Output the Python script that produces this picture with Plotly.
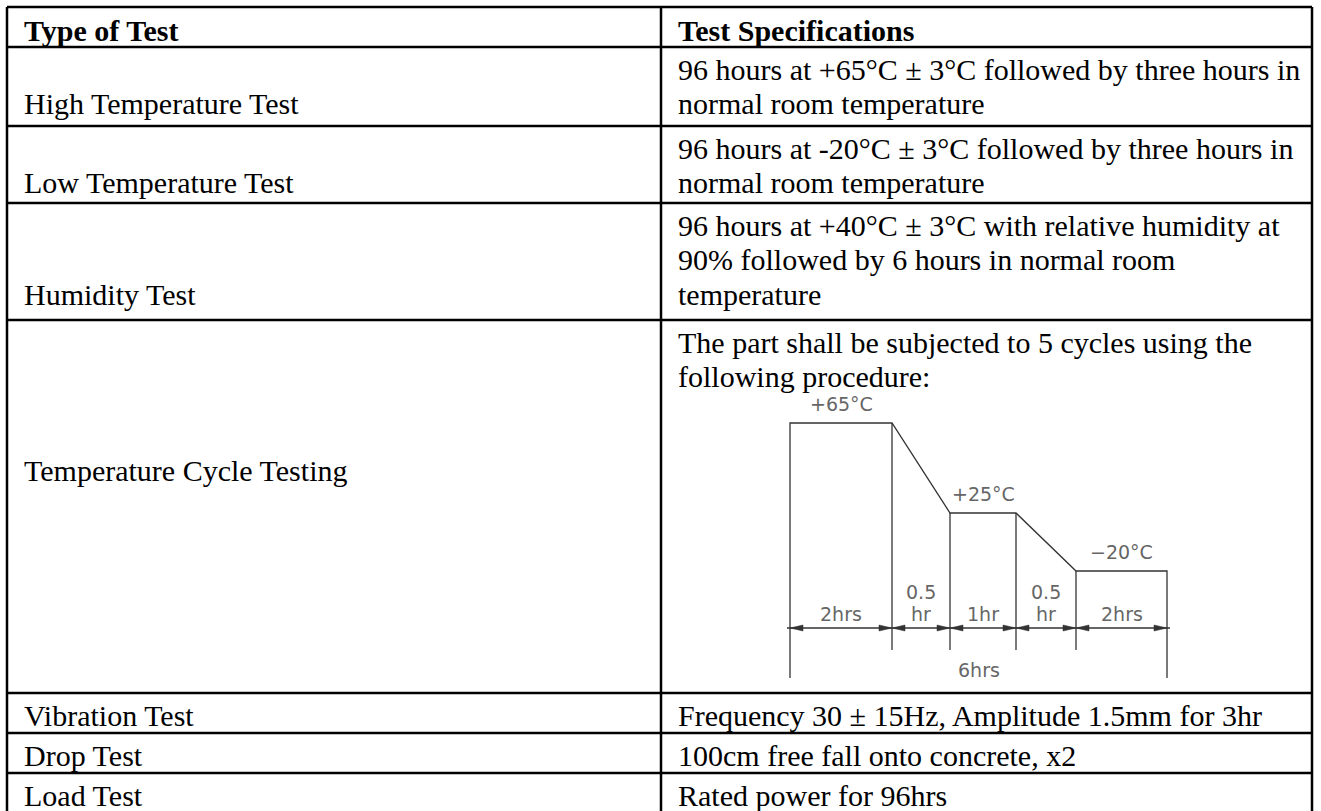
import plotly.graph_objects as go

# ---------------- data ----------------
headers = ["Type of Test", "Test Specifications"]
test_types = ["High Temperature Test", "Low Temperature Test", "Humidity Test",
              "Temperature Cycle Testing", "Vibration Test", "Drop Test", "Load Test"]
test_specs = [
    ["96 hours at +65°C ± 3°C followed by three hours in", "normal room temperature"],
    ["96 hours at -20°C ± 3°C followed by three hours in", "normal room temperature"],
    ["96 hours at +40°C ± 3°C with relative humidity at",
     "90% followed by 6 hours in normal room", "temperature"],
    ["The part shall be subjected to 5 cycles using the", "following procedure:"],
    ["Frequency 30 ± 15Hz, Amplitude 1.5mm for 3hr"],
    ["100cm free fall onto concrete, x2"],
    ["Rated power for 96hrs"],
]
cycle_temp_labels = ["+65°C", "+25°C", "−20°C"]
cycle_seg_labels = [["2hrs"], ["0.5", "hr"], ["1hr"], ["0.5", "hr"], ["2hrs"]]
cycle_total_label = "6hrs"

# ---------------- layout geometry ----------------
W, H = 1321, 811
X_LEFT, X_DIV, X_RIGHT = 7, 661, 1312
ROW_LINES = [7, 47, 126, 203, 320, 693, 733, 773, 830]
PAD = 16
LINE_H = 34.5
FIRST_BASE = 32          # first baseline below a row's top line
FS = 30
FONT = "Liberation Serif"
TEMP_CYCLE_ROW = 3
TEMP_CYCLE_LEFT_BASE = 480

# schematic diagram geometry (not to scale, as in the original drawing)
DG_X = [790, 892, 950, 1016, 1076, 1167]
DG_LEVEL_Y = [423, 513, 571]
DG_DIM_Y = 628
DG_EXT_INNER = 650
DG_EXT_OUTER = 678
DG_COLOR = "#333333"
DG_TXT = "#666666"
DG_FONT = "DejaVu Sans"
DG_FS = 19

fig = go.Figure()

# ---- table lines ----
LW = 2.5
for y in ROW_LINES[:-1]:
    fig.add_shape(type="line", x0=X_LEFT, x1=X_RIGHT, y0=y, y1=y,
                  line=dict(color="black", width=LW), xref="x", yref="y")
for x in (X_LEFT, X_DIV, X_RIGHT):
    fig.add_shape(type="line", x0=x, x1=x, y0=ROW_LINES[0], y1=ROW_LINES[-1],
                  line=dict(color="black", width=LW), xref="x", yref="y")


def add_text(x, baseline, text, size=FS, family=FONT, color="black", xanchor="left"):
    fig.add_annotation(x=x, y=baseline - size * 0.32, text=text, showarrow=False,
                       xanchor=xanchor, yanchor="middle", xref="x", yref="y",
                       borderpad=0,
                       font=dict(family=family, size=size, color=color))


# header
hdr_base = ROW_LINES[0] + 33
add_text(X_LEFT + PAD, hdr_base, "<b>%s</b>" % headers[0])
add_text(X_DIV + PAD, hdr_base, "<b>%s</b>" % headers[1])

# body rows
for i, (name, spec) in enumerate(zip(test_types, test_specs)):
    top = ROW_LINES[i + 1]
    first = top + FIRST_BASE
    for k, line in enumerate(spec):
        add_text(X_DIV + PAD, first + k * LINE_H, line)
    if i == TEMP_CYCLE_ROW:
        add_text(X_LEFT + PAD, TEMP_CYCLE_LEFT_BASE, name)
    else:
        add_text(X_LEFT + PAD, first + (len(spec) - 1) * LINE_H, name)

# ---- temperature cycle diagram ----
px = [DG_X[0], DG_X[0], DG_X[1], DG_X[2], DG_X[3], DG_X[4], DG_X[5], DG_X[5]]
py = [DG_EXT_OUTER, DG_LEVEL_Y[0], DG_LEVEL_Y[0], DG_LEVEL_Y[1], DG_LEVEL_Y[1],
      DG_LEVEL_Y[2], DG_LEVEL_Y[2], DG_EXT_OUTER]
fig.add_trace(go.Scatter(x=px, y=py, mode="lines", line=dict(color=DG_COLOR, width=1.3),
                         hoverinfo="skip", showlegend=False))
tops = [DG_LEVEL_Y[0], DG_LEVEL_Y[1], DG_LEVEL_Y[1], DG_LEVEL_Y[2]]
for xv, ty in zip(DG_X[1:5], tops):
    fig.add_trace(go.Scatter(x=[xv, xv], y=[ty, DG_EXT_INNER], mode="lines",
                             line=dict(color=DG_COLOR, width=1.3),
                             hoverinfo="skip", showlegend=False))
fig.add_trace(go.Scatter(x=[DG_X[0] - 3, DG_X[-1] + 3], y=[DG_DIM_Y, DG_DIM_Y], mode="lines",
                         line=dict(color=DG_COLOR, width=1.3),
                         hoverinfo="skip", showlegend=False))
AL, AH = 13, 3
for a, b in zip(DG_X[:-1], DG_X[1:]):
    for tip, base in ((a, a + AL), (b, b - AL)):
        fig.add_trace(go.Scatter(x=[tip, base, base, tip],
                                 y=[DG_DIM_Y, DG_DIM_Y - AH, DG_DIM_Y + AH, DG_DIM_Y],
                                 mode="lines", fill="toself", fillcolor=DG_COLOR,
                                 line=dict(color=DG_COLOR, width=0.5),
                                 hoverinfo="skip", showlegend=False))

level_spans = [(DG_X[0], DG_X[1]), (DG_X[2], DG_X[3]), (DG_X[4], DG_X[5])]
for (a, b), ly, lab in zip(level_spans, DG_LEVEL_Y, cycle_temp_labels):
    fig.add_annotation(x=(a + b) / 2, y=ly - 19, text=lab, showarrow=False,
                       xanchor="center", yanchor="middle", xref="x", yref="y",
                       font=dict(family=DG_FONT, size=DG_FS, color=DG_TXT))
for a, b, lines in zip(DG_X[:-1], DG_X[1:], cycle_seg_labels):
    n = len(lines)
    for k, lab in enumerate(lines):
        fig.add_annotation(x=(a + b) / 2, y=DG_DIM_Y - 14 - (n - 1 - k) * 22, text=lab,
                           showarrow=False, xanchor="center", yanchor="middle",
                           xref="x", yref="y",
                           font=dict(family=DG_FONT, size=DG_FS, color=DG_TXT))
fig.add_annotation(x=(DG_X[0] + DG_X[-1]) / 2, y=DG_EXT_OUTER - 8, text=cycle_total_label,
                   showarrow=False, xanchor="center", yanchor="middle", xref="x", yref="y",
                   font=dict(family=DG_FONT, size=DG_FS, color=DG_TXT))

fig.update_xaxes(range=[0, W], visible=False, fixedrange=True)
fig.update_yaxes(range=[H, 0], visible=False, fixedrange=True)
fig.update_layout(width=W, height=H, margin=dict(l=0, r=0, t=0, b=0),
                  paper_bgcolor="white", plot_bgcolor="white", showlegend=False)

fig.write_html("out.html", include_plotlyjs=True, config={"displayModeBar": False},
               post_script="document.body.style.margin='0';document.body.style.overflow='hidden';")
